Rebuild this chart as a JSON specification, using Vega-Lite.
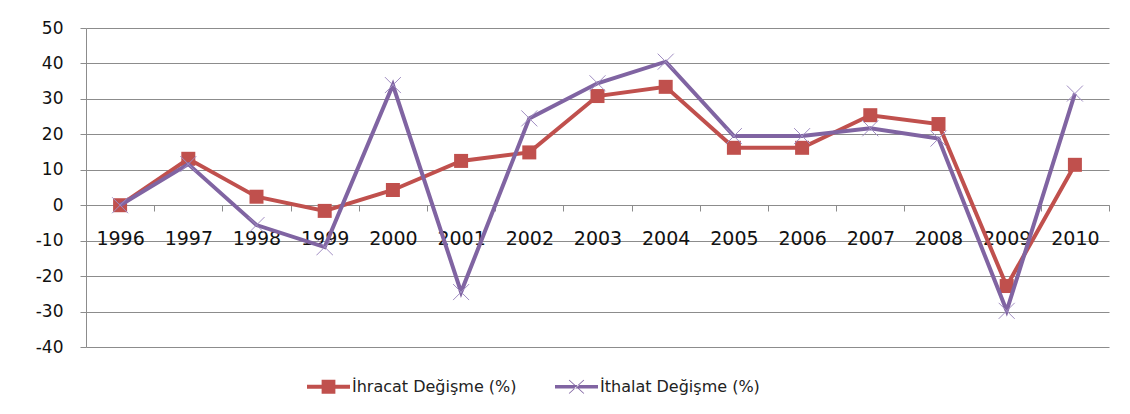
{
  "$schema": "https://vega.github.io/schema/vega-lite/v6.json",
  "autosize": {"type": "none"},
  "width": 1023,
  "height": 319,
  "padding": {"left": 86, "top": 28, "right": 21, "bottom": 67},
  "background": "white",
  "config": {
    "view": {"stroke": null},
    "font": "DejaVu Sans"
  },
  "data": {
    "values": [
      {"year": "1996", "series": "İhracat Değişme (%)", "value": 0},
      {"year": "1997", "series": "İhracat Değişme (%)", "value": 13.1},
      {"year": "1998", "series": "İhracat Değişme (%)", "value": 2.4},
      {"year": "1999", "series": "İhracat Değişme (%)", "value": -1.6},
      {"year": "2000", "series": "İhracat Değişme (%)", "value": 4.3},
      {"year": "2001", "series": "İhracat Değişme (%)", "value": 12.5},
      {"year": "2002", "series": "İhracat Değişme (%)", "value": 14.9},
      {"year": "2003", "series": "İhracat Değişme (%)", "value": 30.8},
      {"year": "2004", "series": "İhracat Değişme (%)", "value": 33.4},
      {"year": "2005", "series": "İhracat Değişme (%)", "value": 16.2},
      {"year": "2006", "series": "İhracat Değişme (%)", "value": 16.2},
      {"year": "2007", "series": "İhracat Değişme (%)", "value": 25.4},
      {"year": "2008", "series": "İhracat Değişme (%)", "value": 22.9},
      {"year": "2009", "series": "İhracat Değişme (%)", "value": -22.8},
      {"year": "2010", "series": "İhracat Değişme (%)", "value": 11.4},
      {"year": "1996", "series": "İthalat Değişme (%)", "value": 0},
      {"year": "1997", "series": "İthalat Değişme (%)", "value": 11.6},
      {"year": "1998", "series": "İthalat Değişme (%)", "value": -5.6},
      {"year": "1999", "series": "İthalat Değişme (%)", "value": -11.8},
      {"year": "2000", "series": "İthalat Değişme (%)", "value": 33.9},
      {"year": "2001", "series": "İthalat Değişme (%)", "value": -24.5},
      {"year": "2002", "series": "İthalat Değişme (%)", "value": 24.5},
      {"year": "2003", "series": "İthalat Değişme (%)", "value": 34.4},
      {"year": "2004", "series": "İthalat Değişme (%)", "value": 40.5},
      {"year": "2005", "series": "İthalat Değişme (%)", "value": 19.5},
      {"year": "2006", "series": "İthalat Değişme (%)", "value": 19.5},
      {"year": "2007", "series": "İthalat Değişme (%)", "value": 21.7},
      {"year": "2008", "series": "İthalat Değişme (%)", "value": 18.8},
      {"year": "2009", "series": "İthalat Değişme (%)", "value": -29.8},
      {"year": "2010", "series": "İthalat Değişme (%)", "value": 31.5}
    ]
  },
  "encoding": {
    "x": {
      "field": "year",
      "type": "ordinal",
      "scale": {"type": "band", "paddingInner": 0, "paddingOuter": 0},
      "axis": {
        "title": null,
        "orient": "bottom",
        "offset": -142,
        "labelAngle": 0,
        "labelFont": "DejaVu Sans",
        "labelFontSize": 19,
        "labelColor": "#111111",
        "labelPadding": 18,
        "tickBand": "extent",
        "tickSize": 6,
        "tickColor": "#8c8c8c",
        "domainColor": "#8c8c8c",
        "grid": false
      }
    },
    "y": {
      "field": "value",
      "type": "quantitative",
      "scale": {"domain": [-40, 50], "nice": false, "zero": false},
      "axis": {
        "title": null,
        "values": [-40, -30, -20, -10, 0, 10, 20, 30, 40, 50],
        "labelExpr": "'' + datum.value",
        "labelFont": "DejaVu Sans",
        "labelFontSize": 17,
        "labelColor": "#111111",
        "labelPadding": 17,
        "tickSize": 6,
        "tickColor": "#8c8c8c",
        "domainColor": "#8c8c8c",
        "gridColor": "#8c8c8c",
        "gridWidth": 1
      }
    },
    "color": {
      "field": "series",
      "type": "nominal",
      "scale": {
        "domain": ["İhracat Değişme (%)", "İthalat Değişme (%)"],
        "range": ["#C0504D", "#8064A2"]
      },
      "legend": {
        "orient": "none",
        "legendX": 221,
        "legendY": 337,
        "direction": "horizontal",
        "title": null,
        "padding": 0,
        "labelFont": "DejaVu Sans",
        "labelFontSize": 16,
        "labelColor": "#222222",
        "labelOffset": 2,
        "labelLimit": 400,
        "columnPadding": 38,
        "symbolSize": 1849,
        "encode": {
          "symbols": {
            "update": {
              "shape": {"signal": "datum.value == 'İhracat Değişme (%)' ? 'M-1,-0.09H1V0.09H-1Z M-0.32,-0.32H0.32V0.32H-0.32Z' : 'M-1,-0.08H1V0.08H-1Z M-0.36,-0.3L-0.33,-0.33L0.36,0.3L0.33,0.33Z M0.36,-0.3L0.33,-0.33L-0.36,0.3L-0.33,0.33Z'"},
              "fill": {"signal": "datum.value == 'İhracat Değişme (%)' ? '#C0504D' : '#8064A2'"},
              "fillOpacity": {"value": 1},
              "opacity": {"value": 1},
              "stroke": {"value": "transparent"},
              "strokeWidth": {"value": 0}
            }
          }
        }
      }
    }
  },
  "layer": [
    {
      "transform": [{"filter": "datum.series == 'İhracat Değişme (%)'"}],
      "mark": {"type": "line", "strokeWidth": 4}
    },
    {
      "transform": [{"filter": "datum.series == 'İhracat Değişme (%)'"}],
      "mark": {"type": "point", "shape": "square", "filled": true, "size": 196, "opacity": 1}
    },
    {
      "transform": [{"filter": "datum.series == 'İthalat Değişme (%)'"}],
      "mark": {"type": "line", "strokeWidth": 4}
    },
    {
      "transform": [{"filter": "datum.series == 'İthalat Değişme (%)'"}],
      "mark": {"type": "point", "shape": "M-1,-1L1,1M1,-1L-1,1", "filled": false, "size": 256, "strokeWidth": 1, "opacity": 1, "stroke": "#A08DC2"}
    }
  ]
}
